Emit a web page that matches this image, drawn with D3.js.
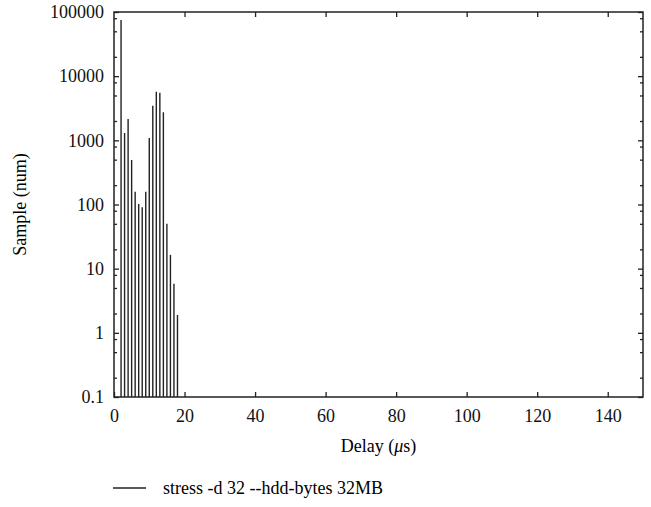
<!DOCTYPE html>
<html>
<head>
<meta charset="utf-8">
<script src="https://cdn.jsdelivr.net/npm/d3@7"></script>
<style>
  body { margin: 0; background: #fff; }
</style>
</head>
<body>
<div id="chart"></div>
<script>
// delay (us) and number of samples
var delays  = [2, 3, 4, 5, 6, 7, 8, 9, 10, 11, 12, 13, 14, 15, 16, 17, 18];
var samples = [75000, 1300, 2150, 495, 158, 102, 91, 158, 1090, 3450, 5700, 5500, 2750, 50, 16.4, 5.8, 1.9];

var xTicks = [0, 20, 40, 60, 80, 100, 120, 140];
var yTicks = [0.1, 1, 10, 100, 1000, 10000, 100000];
var seriesName = "stress -d 32 --hdd-bytes 32MB";

var FONT = "'Liberation Serif', 'Times New Roman', 'DejaVu Serif', serif";

var W = 651, H = 507;
var margin = {top: 12, right: 8, bottom: 110, left: 114};
var width = W - margin.left - margin.right,
    height = H - margin.top - margin.bottom;

var svg = d3.select("#chart").append("svg")
    .attr("width", W)
    .attr("height", H);

var g = svg.append("g")
    .attr("transform", "translate(" + margin.left + "," + margin.top + ")");

var x = d3.scaleLinear().domain([0, 150]).range([0, width]);
var y = d3.scaleLog().domain([0.1, 100000]).range([height, 0]);

// minor ticks on the log axis at 2, 5 and 8 in each decade
var yMinor = [];
yTicks.slice(0, -1).forEach(function (t) {
    [2, 5, 8].forEach(function (m) { yMinor.push(t * m); });
});

// impulse bars
g.append("g").selectAll("line")
    .data(delays)
    .enter()
    .append("line")
    .attr("x1", function (d) { return x(d); })
    .attr("x2", function (d) { return x(d); })
    .attr("y1", height)
    .attr("y2", function (d, i) { return y(samples[i]); })
    .attr("stroke", "#222")
    .attr("stroke-width", 1.4);

// bottom axis, ticks inward
g.append("g")
    .attr("transform", "translate(0," + height + ")")
    .call(d3.axisBottom(x).tickValues(xTicks).tickSizeInner(-5).tickSizeOuter(0).tickPadding(12));

// top mirror ticks
g.append("g")
    .call(d3.axisTop(x).tickValues(xTicks.slice(1)).tickSizeInner(-5).tickSizeOuter(0).tickFormat(""));

// left axis
g.append("g")
    .call(d3.axisLeft(y).tickValues(yTicks).tickSizeInner(-5).tickSizeOuter(0).tickPadding(10)
        .tickFormat(function (d) { return d < 1 ? "0.1" : d3.format("d")(d); }));
g.append("g")
    .call(d3.axisLeft(y).tickValues(yMinor).tickSizeInner(-3).tickSizeOuter(0).tickFormat(""));

// right mirror ticks
g.append("g")
    .attr("transform", "translate(" + width + ",0)")
    .call(d3.axisRight(y).tickValues(yTicks).tickSizeInner(-5).tickSizeOuter(0).tickFormat(""));
g.append("g")
    .attr("transform", "translate(" + width + ",0)")
    .call(d3.axisRight(y).tickValues(yMinor).tickSizeInner(-3).tickSizeOuter(0).tickFormat(""));

g.selectAll(".domain").remove();
g.selectAll("g").attr("font-family", null);
g.selectAll(".tick line").attr("stroke", "#222").attr("stroke-width", 1.3);
g.selectAll(".tick text")
    .style("font-family", FONT)
    .style("font-size", "18px")
    .attr("fill", "#111");

// frame
g.append("rect")
    .attr("width", width)
    .attr("height", height)
    .attr("fill", "none")
    .attr("stroke", "#222")
    .attr("stroke-width", 1.5);

// axis titles
var xt = svg.append("text")
    .attr("x", margin.left + width / 2)
    .attr("y", 452)
    .attr("text-anchor", "middle")
    .style("font-family", FONT)
    .style("font-size", "18px");
xt.append("tspan").text("Delay (");
xt.append("tspan").style("font-style", "italic").text("\u03bc");
xt.append("tspan").text("s)");

svg.append("text")
    .attr("transform", "translate(26," + (margin.top + height / 2) + ") rotate(-90)")
    .attr("text-anchor", "middle")
    .style("font-family", FONT)
    .style("font-size", "18px")
    .text("Sample (num)");

// legend
svg.append("line")
    .attr("x1", 113).attr("x2", 146)
    .attr("y1", 488).attr("y2", 488)
    .attr("stroke", "#222")
    .attr("stroke-width", 1.4);
svg.append("text")
    .attr("x", 163)
    .attr("y", 494)
    .style("font-family", FONT)
    .style("font-size", "18px")
    .text(seriesName);
</script>
</body>
</html>
